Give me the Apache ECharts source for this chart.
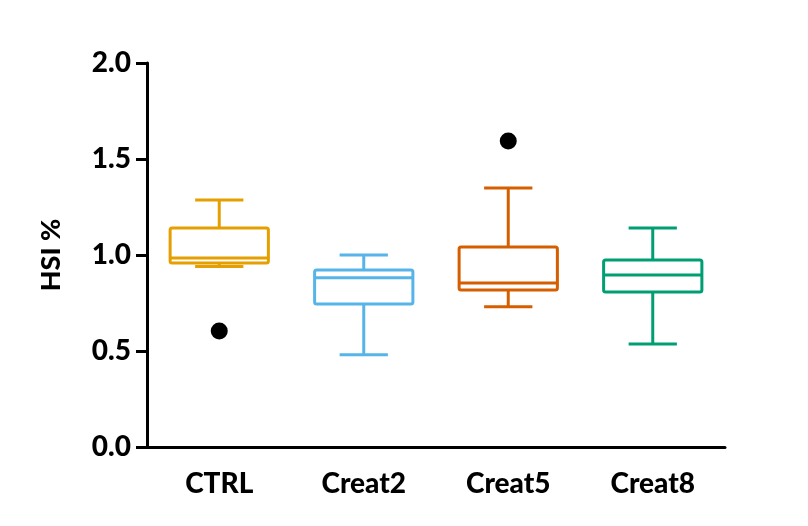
<!DOCTYPE html>
<html>
<head>
<meta charset="utf-8">
<script src="https://cdn.jsdelivr.net/npm/echarts@6/dist/echarts.min.js"></script>
<style>
  html, body { margin: 0; padding: 0; background: #ffffff; }
  #chart { width: 808px; height: 526px; }
</style>
</head>
<body>
<div id="chart"></div>
<script>
// Groups and box-plot statistics for HSI %
const categories = ['CTRL', 'Creat2', 'Creat5', 'Creat8'];
const lowerWhisker = [0.94, 0.48, 0.73, 0.536];
const q1Values = [0.958, 0.745, 0.818, 0.807];
const medianValues = [0.984, 0.882, 0.854, 0.896];
const q3Values = [1.141, 0.922, 1.042, 0.974];
const upperWhisker = [1.286, 1.0, 1.349, 1.141];
// Outlying points: [group index, value]
const outlierPoints = [[0, 0.604], [2, 1.594]];
const groupColors = ['#E69F00', '#56B4E9', '#D55E00', '#009E73'];

const yTicks = { min: 0, max: 2, interval: 0.5 };
const fontFamily = 'Lato, "Liberation Sans", sans-serif';
const fontWeight = 900;

const boxData = categories.map((c, i) => [i, lowerWhisker[i], q1Values[i], medianValues[i], q3Values[i], upperWhisker[i]]);

function renderBox(params, api) {
  const idx = api.value(0);
  const band = api.size([1, 0])[0];
  const boxHalf = band * 0.34;
  const capHalf = band * 0.167;
  const pLow = api.coord([idx, api.value(1)]);
  const pQ1 = api.coord([idx, api.value(2)]);
  const pMed = api.coord([idx, api.value(3)]);
  const pQ3 = api.coord([idx, api.value(4)]);
  const pHigh = api.coord([idx, api.value(5)]);
  const cx = pMed[0];
  const color = groupColors[idx];
  const style = { stroke: color, lineWidth: 3, fill: null, lineJoin: 'round', lineCap: 'butt' };
  return {
    type: 'group',
    children: [
      { type: 'line', shape: { x1: cx, y1: pQ3[1], x2: cx, y2: pHigh[1] }, style: style },
      { type: 'line', shape: { x1: cx, y1: pQ1[1], x2: cx, y2: pLow[1] }, style: style },
      { type: 'line', shape: { x1: cx - capHalf, y1: pHigh[1], x2: cx + capHalf, y2: pHigh[1] }, style: style },
      { type: 'line', shape: { x1: cx - capHalf, y1: pLow[1], x2: cx + capHalf, y2: pLow[1] }, style: style },
      { type: 'rect', shape: { x: cx - boxHalf, y: pQ3[1], width: boxHalf * 2, height: pQ1[1] - pQ3[1], r: 2 }, style: style },
      { type: 'line', shape: { x1: cx - boxHalf, y1: pMed[1], x2: cx + boxHalf, y2: pMed[1] }, style: style }
    ]
  };
}

const chart = echarts.init(document.getElementById('chart'));
chart.setOption({
  backgroundColor: '#ffffff',
  animation: false,
  grid: { left: 147, right: 83, top: 63, bottom: 79, containLabel: false },
  xAxis: {
    type: 'category',
    data: categories,
    boundaryGap: true,
    axisLine: { lineStyle: { color: '#000', width: 3 } },
    axisTick: { alignWithLabel: true, length: 9, lineStyle: { color: '#000', width: 3 } },
    axisLabel: { color: '#000', fontWeight: fontWeight, fontSize: 28, fontFamily: fontFamily, margin: 23 },
    splitLine: { show: false }
  },
  yAxis: {
    type: 'value',
    min: yTicks.min,
    max: yTicks.max,
    interval: yTicks.interval,
    name: 'HSI %',
    nameLocation: 'middle',
    nameGap: 82,
    nameTextStyle: { color: '#000', fontWeight: fontWeight, fontSize: 27, fontFamily: fontFamily },
    axisLine: { show: true, lineStyle: { color: '#000', width: 3 } },
    axisTick: { show: true, length: 11, lineStyle: { color: '#000', width: 3 } },
    axisLabel: { color: '#000', fontWeight: fontWeight, fontSize: 28, fontFamily: fontFamily, margin: 16, formatter: v => v.toFixed(1) },
    splitLine: { show: false }
  },
  series: [
    {
      type: 'custom',
      renderItem: renderBox,
      data: boxData,
      encode: { x: 0, y: [1, 2, 3, 4, 5] },
      z: 2
    },
    {
      type: 'scatter',
      data: outlierPoints,
      symbol: 'circle',
      symbolSize: 17,
      itemStyle: { color: '#000', opacity: 1 },
      z: 3
    }
  ]
});
</script>
</body>
</html>
